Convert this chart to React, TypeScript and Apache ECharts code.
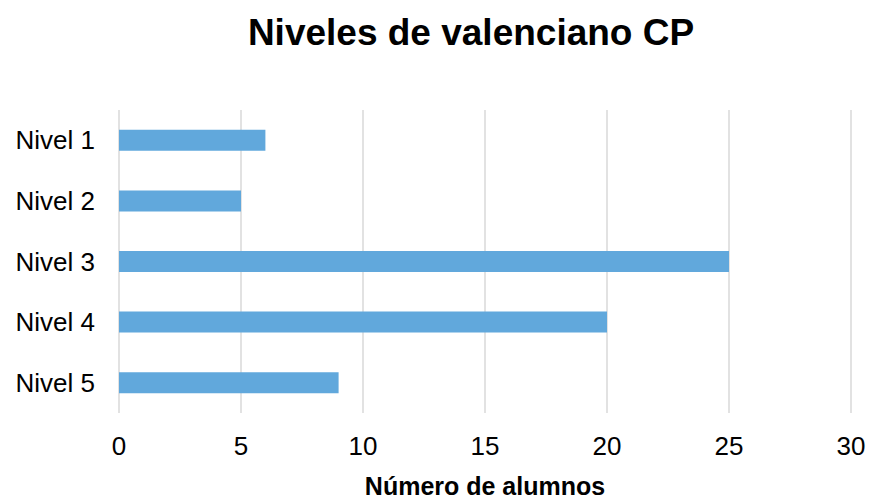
import React, { useEffect, useRef } from "react";
import * as echarts from "echarts";

const categories = ["Nivel 1", "Nivel 2", "Nivel 3", "Nivel 4", "Nivel 5"];
const alumnos = [6, 5, 25, 20, 9];
const titleText = "Niveles de valenciano CP";
const axisName = "Número de alumnos";

export default function App() {
  const ref = useRef<HTMLDivElement>(null);
  useEffect(() => {
    if (!ref.current) return;
    const chart = echarts.init(ref.current, null, { renderer: "svg" });
    const font = "'Liberation Sans', Arial, Helvetica, sans-serif";
    chart.setOption({
      animation: false,
      backgroundColor: "#ffffff",
      title: {
        text: titleText,
        left: 466,
        top: 9,
        textAlign: "center",
        textStyle: { fontFamily: font, fontWeight: "bold", fontSize: 37, color: "#000" },
      },
      grid: {
        left: 119,
        right: 18,
        top: 110,
        bottom: 86,
        containLabel: false,
        outerBoundsMode: "none",
      },
      xAxis: {
        type: "value",
        min: 0,
        max: 30,
        interval: 5,
        name: axisName,
        nameLocation: "middle",
        nameGap: 62,
        nameTextStyle: {
          fontFamily: font,
          fontWeight: "bold",
          fontSize: 25,
          lineHeight: 22,
          color: "#000",
        },
        axisLine: { show: false },
        axisTick: { show: false },
        axisLabel: { fontFamily: font, fontSize: 26, color: "#000", margin: 20 },
        splitLine: { show: true, lineStyle: { color: "#d9d9d9", width: 1.5 } },
      },
      yAxis: {
        type: "category",
        data: categories,
        inverse: true,
        axisLine: { show: false },
        axisTick: { show: false },
        axisLabel: { fontFamily: font, fontSize: 26, color: "#000", margin: 24 },
        splitLine: { show: false },
      },
      series: [
        {
          type: "bar",
          data: alumnos,
          barWidth: 21,
          itemStyle: { color: "#61a8dc" },
        },
      ],
    });
    return () => chart.dispose();
  }, []);
  return <div ref={ref} style={{ width: 869, height: 499, position: "absolute", left: 0, top: 0 }} />;
}
